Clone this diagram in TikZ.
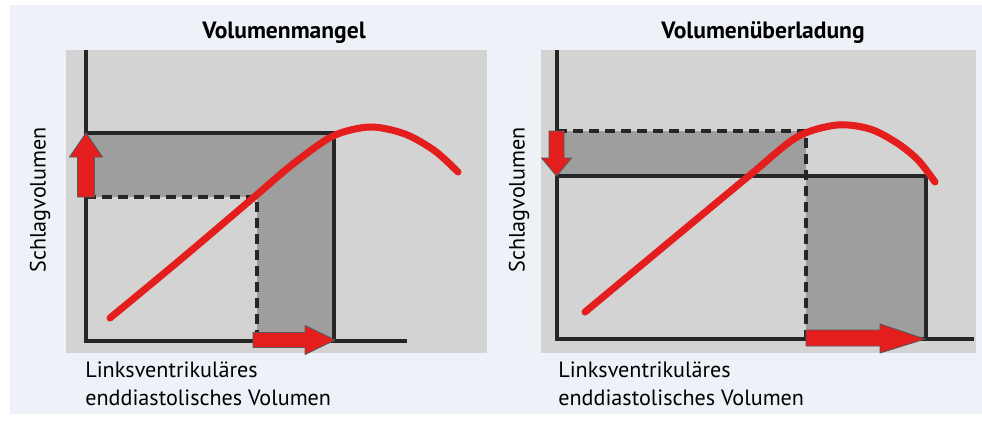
\documentclass[tikz,border=0pt]{standalone}
\usepackage{fontspec}
\setmainfont{PT Sans}
\usetikzlibrary{calc,positioning}
\definecolor{seite}{RGB}{238,242,248}
\definecolor{feld}{RGB}{211,211,211}
\definecolor{schatten}{RGB}{158,158,158}
\definecolor{kurve}{RGB}{228,30,28}

\begin{document}
\begin{tikzpicture}[
    x=0.02cm, y=-0.02cm,
    achse/.style={line width=2.1pt, black!85},
    grenze/.style={line width=1.9pt, black!85},
    strich/.style={line width=1.9pt, black!85, dash pattern=on 5.7pt off 3.4pt},
    kennlinie/.style={line width=4pt, kurve, line cap=round, line join=round},
    pfeil/.style={fill=kurve, draw=black!65, line width=0.5pt, line join=round},
    titel/.style={font=\fontsize{13.4}{16}\selectfont\bfseries},
    beschriftung/.style={font=\fontsize{12.6}{16}\selectfont, align=left, inner sep=0pt}
  ]
  % Hintergrund
  \fill[white] (0,0) rectangle (982,423);
  \fill[seite] (10,5) rectangle (982,414);
  \useasboundingbox (0,0) rectangle (982,423);

  % ---------- linkes Feld: Volumenmangel ----------
  \coordinate (L-oben)  at (86,50);
  \coordinate (L-null)  at (86,341);
  \coordinate (L-ende)  at (407,341);
  \fill[feld] (66,50) rectangle (487,353);
  \fill[schatten] (86,133) rectangle (334,197);
  \fill[schatten] (257,197) rectangle (334,341);
  \draw[strich] (86,197) -- (257,197) -- (257,341);
  \draw[grenze] (86,133) -| (334,341);
  \draw[achse] (L-oben) -- (L-null) -- (L-ende);
  \draw[kennlinie] plot[smooth] coordinates {(110,318) (180,260) (253,198) (293,164)
      (333,136) (370,127) (405,134) (435,151) (458,172)};
  % Pfeile
  \draw[pfeil] (77.5,197) -- (77.5,157) -- (69.5,157) -- (86,133) -- (102.5,157)
      -- (94.5,157) -- (94.5,197) -- cycle;
  \draw[pfeil] (253,332.5) -- (305,332.5) -- (305,325.5) -- (335,340) -- (305,354.5)
      -- (305,347.5) -- (253,347.5) -- cycle;
  % Beschriftung
  \node[titel] (titelL) at (284,33) {Volumenmangel};
  \node[beschriftung, rotate=90] (yL) at (40,200) {Schlagvolumen};
  \node[beschriftung, anchor=north west] (xL) at (85,361)
      {Linksventrikuläres\\enddiastolisches Volumen};

  % ---------- rechtes Feld: Volumenüberladung ----------
  \coordinate (R-oben)  at (557,50);
  \coordinate (R-null)  at (557,339);
  \coordinate (R-ende)  at (974,339);
  \fill[feld] (541,50) rectangle (976,353);
  \fill[schatten] (557,131) rectangle (806,176);
  \fill[schatten] (806,176) rectangle (926,339);
  \draw[strich] (557,131) -- (806,131) -- (806,339);
  \draw[grenze] (557,176) -| (926,339);
  \draw[achse] (R-oben) -- (R-null) -- (R-ende);
  \draw[kennlinie] plot[smooth] coordinates {(585,312) (668,243) (750,175) (797,137)
      (837,125) (870,129) (897,143) (918,160) (935,182)};
  % Pfeile
  \draw[pfeil] (549,131) -- (549,158) -- (541.5,158) -- (556.5,176) -- (571.5,158)
      -- (564,158) -- (564,131) -- cycle;
  \draw[pfeil] (806,330) -- (880,330) -- (880,324) -- (925,339) -- (880,353)
      -- (880,346) -- (806,346) -- cycle;
  % Beschriftung
  \node[titel] (titelR) at (763,33) {Volumenüberladung};
  \node[beschriftung, rotate=90] (yR) at (519,200) {Schlagvolumen};
  \node[beschriftung, anchor=north west] (xR) at (558,361)
      {Linksventrikuläres\\enddiastolisches Volumen};
\end{tikzpicture}
\end{document}
